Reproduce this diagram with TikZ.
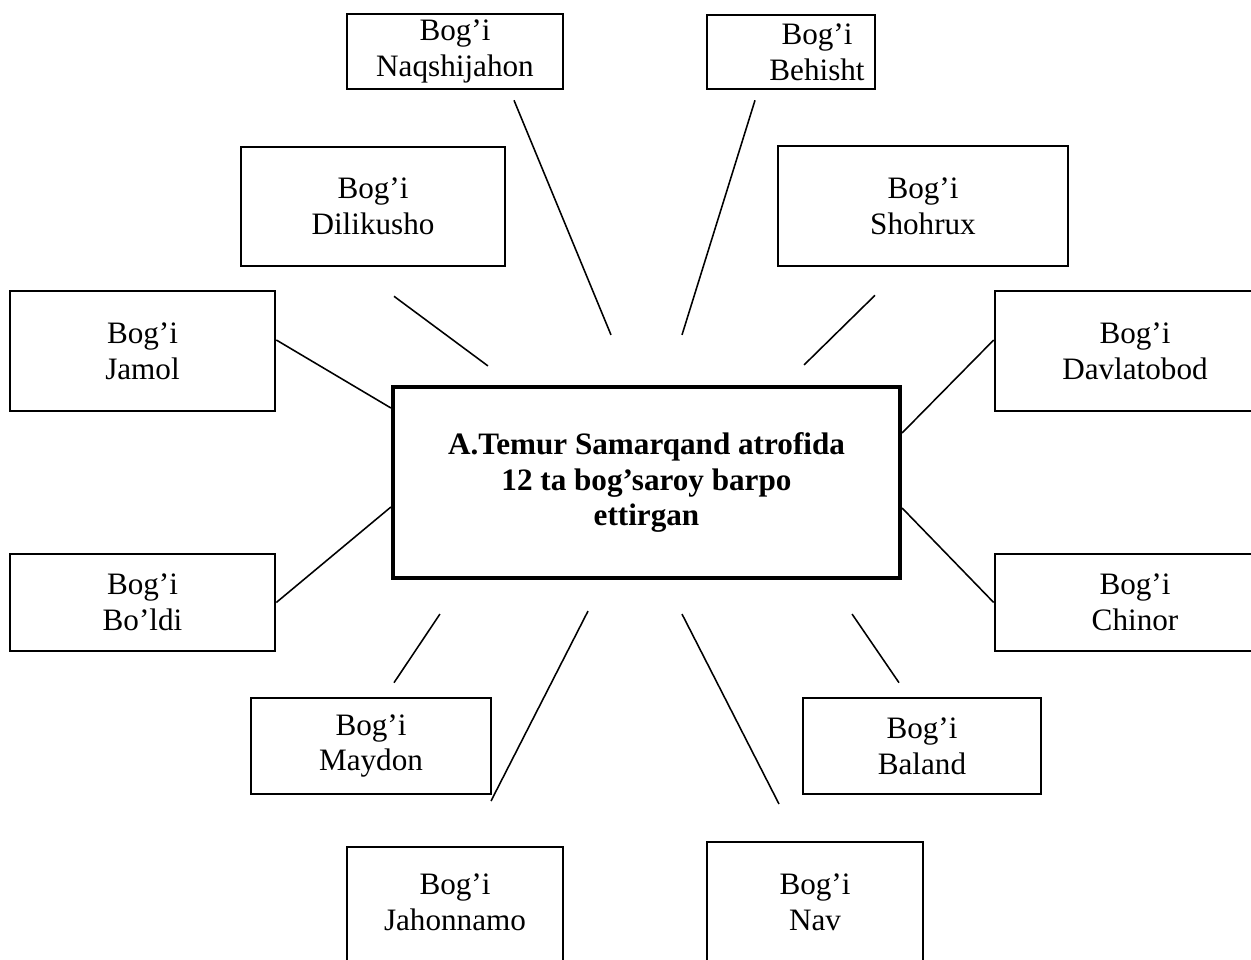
\documentclass[tikz,border=0pt]{standalone}
\usepackage{fontspec}
\setmainfont{Liberation Serif}
\usetikzlibrary{calc,positioning}
\newlength\pxu
\setlength\pxu{0.385pt}
\tikzset{
  bog/.style={draw, line width=1pt, align=center, inner sep=0pt, font=\fontsize{12}{13.8}\selectfont},
  matn/.style={align=center, inner sep=0pt, font=\fontsize{12}{13.8}\selectfont},
  markaz/.style={draw, line width=1.6pt, align=center, inner sep=0pt, font=\fontsize{12}{13.8}\selectfont\bfseries},
  chiziq/.style={line width=0.6pt}
}
\begin{document}
\begin{tikzpicture}[x=0.385pt,y=-0.385pt]
\useasboundingbox (0,0) rectangle (1251,960);
\clip (0,0) rectangle (1251,960);
% markaziy blok
\node[markaz, minimum width=507\pxu, minimum height=191\pxu] (temur) at (646.5,482.5) {A.Temur Samarqand atrofida\\12 ta bog’saroy barpo\\ettirgan};
% bog'lar
\node[bog, minimum width=216\pxu, minimum height=75\pxu] (naqsh) at (455,51.5) {Bog’i\\Naqshijahon};
\node[bog, minimum width=168\pxu, minimum height=74\pxu] (behisht) at (791,52) {};
\node[matn] (behishtmatn) at ($(behisht.center)+(26,0)$) {Bog’i\\Behisht};
\node[bog, minimum width=264\pxu, minimum height=119\pxu] (dili) at (373,206.5) {Bog’i\\Dilikusho};
\node[bog, minimum width=290\pxu, minimum height=120\pxu] (shoh) at (923,206) {Bog’i\\Shohrux};
\node[bog, minimum width=265\pxu, minimum height=120\pxu] (jamol) at (142.5,351) {Bog’i\\Jamol};
\node[bog, minimum width=280\pxu, minimum height=120\pxu] (davlat) at (1135,351) {Bog’i\\Davlatobod};
\node[bog, minimum width=265\pxu, minimum height=97\pxu] (boldi) at (142.5,602.5) {Bog’i\\Bo’ldi};
\node[bog, minimum width=280\pxu, minimum height=97\pxu] (chinor) at (1135,602.5) {Bog’i\\Chinor};
\node[bog, minimum width=240\pxu, minimum height=96\pxu] (maydon) at (371,746) {Bog’i\\Maydon};
\node[bog, minimum width=238\pxu, minimum height=96\pxu] (baland) at (922,746) {Bog’i\\Baland};
\node[matn] (jahon) at (455,902) {Bog’i\\Jahonnamo};
\draw[line width=1pt] (347,847) rectangle (563,1000);
\node[matn] (nav) at (815,902) {Bog’i\\Nav};
\draw[line width=1pt] (707,842) rectangle (923,1000);
% chiziqlar
\draw[chiziq] ($(naqsh.south)+(59,10)$) -- ($(temur.north)+(-35.5,-50)$);
\draw[chiziq] ($(behisht.south)+(-36,10)$) -- ($(temur.north)+(35.5,-50)$);
\draw[chiziq] ($(dili.south)+(21,29)$) -- ($(temur.north west)+(97,-19)$);
\draw[chiziq] ($(shoh.south)+(-48,28)$) -- ($(temur.north east)+(-98,-20)$);
\draw[chiziq] ($(jamol.east)+(0,-11)$) -- ($(temur.west)+(0,-74.5)$);
\draw[chiziq] ($(davlat.west)+(0,-11)$) -- ($(temur.east)+(0,-49.5)$);
\draw[chiziq] (boldi.east) -- ($(temur.west)+(0,24.5)$);
\draw[chiziq] (chinor.west) -- ($(temur.east)+(0,25.5)$);
\draw[chiziq] ($(temur.south west)+(49,34)$) -- ($(maydon.north)+(23,-14)$);
\draw[chiziq] ($(temur.south)+(-58.5,31)$) -- ($(jahon)+(36,-101)$);
\draw[chiziq] ($(temur.south)+(35.5,34)$) -- ($(nav)+(-36,-98)$);
\draw[chiziq] ($(temur.south east)+(-50,34)$) -- ($(baland.north)+(-23,-14)$);
\end{tikzpicture}
\end{document}
